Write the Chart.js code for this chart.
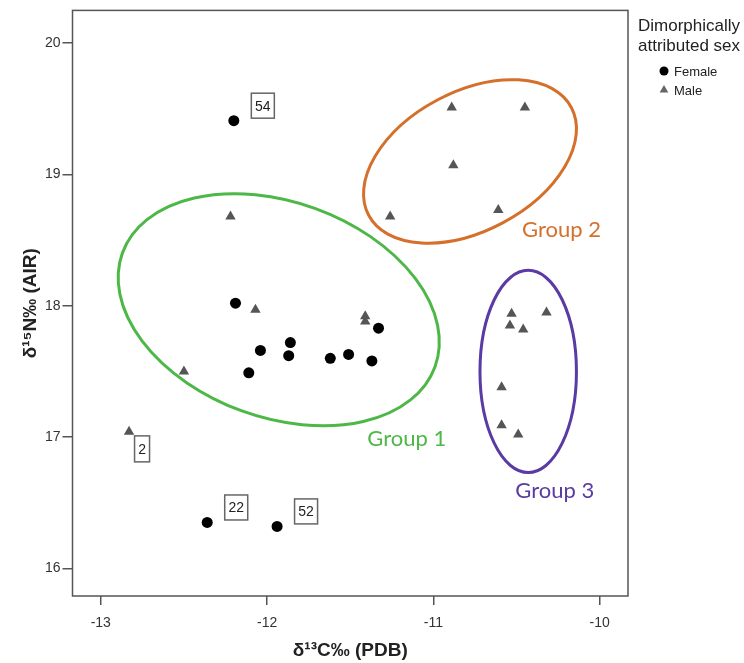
<!DOCTYPE html>
<html lang="en">
<head>
    <meta charset="UTF-8">
    <title>Isotopes</title>
    <script src="https://cdn.jsdelivr.net/npm/chart.js"></script>
    <style>
        body { margin: 0; background: #fff; }
    </style>
</head>
<body>
    <canvas id="myChart" width="744" height="663"></canvas>
<script>

    // data
    const femaleX = [-12.20, -12.19, -11.86, -12.04, -11.87, -11.62, -11.51, -11.37, -11.33, -12.11, -12.36, -11.94];
    const femaleY = [19.41, 18.02, 17.72, 17.66, 17.62, 17.60, 17.63, 17.58, 17.83, 17.49, 16.35, 16.32];
    const femaleCase = ['54', null, null, null, null, null, null, null, null, null, '22', '52'];

    const maleX = [-12.22, -12.07, -11.41, -11.41, -12.50, -12.83, -10.89, -10.45, -10.88, -11.26, -10.61, -10.53, -10.32, -10.54, -10.46, -10.59, -10.59, -10.49];
    const maleY = [18.68, 17.97, 17.92, 17.88, 17.50, 17.04, 19.51, 19.51, 19.07, 18.68, 18.73, 17.94, 17.95, 17.85, 17.82, 17.38, 17.09, 17.02];
    const maleCase = [null, null, null, null, null, '2', null, null, null, null, null, null, null, null, null, null, null, null];

    const xTicks = [-13, -12, -11, -10];
    const yTicks = [16, 17, 18, 19, 20];

    // group ellipses (centre and radii in data units, angle in degrees)
    const groupNames = ['Group 1', 'Group 2', 'Group 3'];
    const groupCX = [-11.93, -10.78, -10.43];
    const groupCY = [17.97, 19.10, 17.50];
    const groupRX = [1.00, 0.69, 0.29];
    const groupRY = [0.82, 0.53, 0.77];
    const groupAngle = [20, -28, 0];
    const groupLabelX = [-11.16, -10.23, -10.27];
    const groupLabelY = [16.99, 18.58, 16.59];
    const groupColors = ['#4db748', '#d4702b', '#5a3aa3'];

    const female = femaleX.map((v, i) => ({x: v, y: femaleY[i], id: femaleCase[i]}));
    const male = maleX.map((v, i) => ({x: v, y: maleY[i], id: maleCase[i]}));

    function marker(ctx, style, x, y, r) {
        ctx.beginPath();
        if (style == 'circle') {
            ctx.arc(x, y, r, 0, Math.PI * 2);
        } else {
            ctx.moveTo(x, y - r);
            ctx.lineTo(x + r * 0.866, y + r / 2);
            ctx.lineTo(x - r * 0.866, y + r / 2);
            ctx.closePath();
        }
        ctx.fill();
    }

    const extras = {
        id: 'extras',
        beforeDatasetsDraw(chart) {
            const ctx = chart.ctx;
            const xs = chart.scales.x, ys = chart.scales.y;
            ctx.save();
            groupNames.forEach((name, i) => {
                const cx = xs.getPixelForValue(groupCX[i]);
                const cy = ys.getPixelForValue(groupCY[i]);
                const rx = Math.abs(xs.getPixelForValue(groupCX[i] + groupRX[i]) - cx);
                const ry = Math.abs(ys.getPixelForValue(groupCY[i] + groupRY[i]) - cy);
                ctx.beginPath();
                ctx.ellipse(cx, cy, rx, ry, groupAngle[i] * Math.PI / 180, 0, Math.PI * 2);
                ctx.strokeStyle = groupColors[i];
                ctx.lineWidth = 3;
                ctx.stroke();

                ctx.fillStyle = groupColors[i];
                ctx.font = '22px Lato';
                ctx.textAlign = 'center';
                ctx.textBaseline = 'middle';
                ctx.fillText(name, xs.getPixelForValue(groupLabelX[i]), ys.getPixelForValue(groupLabelY[i]));
            });
            ctx.restore();
        },
        afterDraw(chart) {
            const ctx = chart.ctx;
            const a = chart.chartArea;
            const xs = chart.scales.x, ys = chart.scales.y;
            ctx.save();

            // frame round the plot
            ctx.strokeStyle = '#555';
            ctx.lineWidth = 1.5;
            ctx.strokeRect(a.left, a.top, a.right - a.left, a.bottom - a.top);

            // case number boxes
            ctx.font = '14px "Liberation Sans"';
            ctx.textAlign = 'center';
            ctx.textBaseline = 'middle';
            female.concat(male).forEach(p => {
                if (!p.id) return;
                const px = xs.getPixelForValue(p.x);
                const py = ys.getPixelForValue(p.y);
                let bx, by, w, h;
                if (p.id.length == 1) {
                    bx = px + 13; by = py + 17; w = 15; h = 26;
                } else {
                    bx = px + 29; by = py - 15; w = 23; h = 25;
                }
                ctx.fillStyle = '#fff';
                ctx.fillRect(bx - w / 2, by - h / 2, w, h);
                ctx.strokeStyle = '#666';
                ctx.lineWidth = 1.5;
                ctx.strokeRect(bx - w / 2, by - h / 2, w, h);
                ctx.fillStyle = '#222';
                ctx.fillText(p.id, bx, by + 1);
            });

            // legend
            const lx = a.right + 10;
            ctx.fillStyle = '#222';
            ctx.textAlign = 'left';
            ctx.font = '17px "Liberation Sans"';
            ctx.fillText('Dimorphically', lx, 26);
            ctx.fillText('attributed sex', lx, 46);
            ctx.font = '13px "Liberation Sans"';
            ctx.fillStyle = '#000';
            marker(ctx, 'circle', lx + 26, 71, 4.5);
            ctx.fillStyle = '#222';
            ctx.fillText('Female', lx + 36, 72);
            ctx.fillStyle = '#666';
            marker(ctx, 'triangle', lx + 26, 90, 5);
            ctx.fillStyle = '#222';
            ctx.fillText('Male', lx + 36, 91);
            ctx.restore();
        }
    };

    const data = {
        datasets: [{
            label: 'Female',
            data: female,
            pointStyle: 'circle',
            pointRadius: 5.5,
            backgroundColor: '#000',
            borderColor: '#000',
            borderWidth: 0
        }, {
            label: 'Male',
            data: male,
            pointStyle: 'triangle',
            pointRadius: 6,
            backgroundColor: '#555',
            borderColor: '#555',
            borderWidth: 0
        }]
    };

    const config = {
        type: 'scatter',
        data: data,
        plugins: [extras],
        options: {
            responsive: false,
            animation: false,
            layout: { padding: { left: 0, right: 116, top: 6, bottom: 0 } },
            plugins: {
                legend: { display: false },
                tooltip: { enabled: false }
            },
            scales: {
                x: {
                    type: 'linear',
                    min: -13.17,
                    max: -9.83,
                    afterBuildTicks: s => { s.ticks = xTicks.map(v => ({value: v})); },
                    afterFit: s => { s.height = 67; },
                    grid: { drawOnChartArea: false, drawTicks: true, tickLength: 9, color: '#555', lineWidth: 1.5 },
                    border: { display: false },
                    ticks: { padding: 10, color: '#333', font: { family: 'Liberation Sans', size: 14 } },
                    title: {
                        display: true,
                        text: 'δ¹³C‰ (PDB)',
                        color: '#222',
                        font: { family: 'Liberation Sans', size: 19, weight: 'bold' },
                        padding: { top: 0, bottom: 1 }
                    }
                },
                y: {
                    type: 'linear',
                    min: 15.79,
                    max: 20.25,
                    afterBuildTicks: s => { s.ticks = yTicks.map(v => ({value: v})); },
                    afterFit: s => { s.width = 72.5; },
                    grid: { drawOnChartArea: false, drawTicks: true, tickLength: 10, color: '#555', lineWidth: 1.5 },
                    border: { display: false },
                    ticks: { padding: 2, color: '#333', font: { family: 'Liberation Sans', size: 14 } },
                    title: {
                        display: true,
                        text: 'δ¹⁵N‰ (AIR)',
                        color: '#222',
                        font: { family: 'Liberation Sans', size: 19, weight: 'bold' },
                        padding: { top: 19, bottom: 0 }
                    }
                }
            }
        }
    };

    const myChart = new Chart(document.getElementById('myChart'), config);

</script>
</body>
</html>
